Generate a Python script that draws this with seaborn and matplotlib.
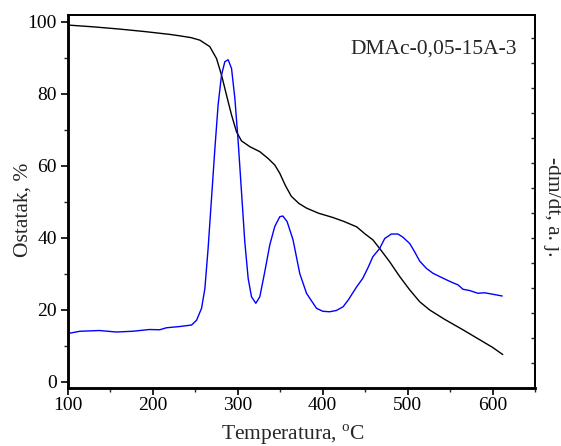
import numpy as np
import pandas as pd
import matplotlib
matplotlib.use("Agg")
import matplotlib.pyplot as plt
import seaborn as sns
from matplotlib.ticker import MultipleLocator

# TG curve: residual mass (%) vs temperature (°C)
tg_temp = [100, 130, 160, 190, 220, 231.8, 245, 255.3, 267, 274.9, 280.8, 286.7,
           292.6, 298.5, 304.3, 314.1, 325.9, 335.7, 343.5, 349.4, 356, 363, 372,
           381, 395, 412, 425, 440, 450, 459, 467, 478.8, 490.6, 502.4, 514.1,
           525.9, 543.5, 565, 585, 600, 612]
tg_mass = [99.1, 98.6, 98.0, 97.3, 96.5, 96.1, 95.6, 94.9, 93.1, 89.8, 85.2, 79.6,
           74.1, 69.4, 66.9, 65.3, 63.9, 62.0, 60.2, 57.9, 54.5, 51.5, 49.5,
           48.2, 46.8, 45.6, 44.5, 43.0, 41.0, 39.4, 37.0, 33.3, 29.2, 25.5, 22.2,
           19.9, 17.3, 14.4, 11.6, 9.5, 7.5]

# DTG curve: -dm/dt (arbitrary units) vs temperature (°C)
dtg_temp = [100, 114, 137, 157, 176, 196, 208, 216, 231.8, 245.5, 251.4, 257.3,
            261.2, 265, 269, 273, 276.8, 280.8, 284.7, 288.6, 292.6, 296.5, 300.4,
            304.3, 308.2, 312.2, 316.1, 321.2, 325.9, 331.8, 337.6, 343.5, 349.4,
            353, 358, 365, 373, 381, 392.6, 400, 408, 416, 424, 430, 440, 447, 453,
            459, 467, 473, 480.8, 488.6, 494.5, 502.4, 508.2, 514.1, 521.9, 529.8,
            537.6, 545.5, 555.3, 559.2, 565.1, 572.9, 582.7, 590.6, 600.4, 611.4]
dtg_val = [2.18, 2.27, 2.30, 2.24, 2.27, 2.34, 2.33, 2.41, 2.46, 2.52, 2.71, 3.19,
           3.98, 5.58, 7.58, 9.58, 11.33, 12.52, 13.05, 13.13, 12.78, 11.59, 9.86,
           7.86, 5.85, 4.38, 3.65, 3.39, 3.65, 4.66, 5.72, 6.46, 6.85,
           6.88, 6.66, 5.93, 4.57, 3.78, 3.19, 3.07, 3.05, 3.10, 3.25, 3.52, 4.05,
           4.38, 4.79, 5.25, 5.58, 5.98, 6.16, 6.16, 6.03, 5.78, 5.45, 5.08, 4.79,
           4.59, 4.46, 4.33, 4.18, 4.13, 3.95, 3.90, 3.79, 3.81, 3.75, 3.68]

sample_name = "DMAc-0,05-15A-3"

tg = pd.DataFrame({"T": tg_temp, "m": tg_mass})
dtg = pd.DataFrame({"T": dtg_temp, "d": dtg_val})

sns.set_style("ticks")
plt.rcParams["font.family"] = ["Liberation Serif", "DejaVu Serif"]
plt.rcParams["mathtext.fontset"] = "custom"
plt.rcParams["mathtext.rm"] = "Liberation Serif"

fig = plt.figure(figsize=(5.61, 4.46), dpi=100)
ax = fig.add_axes([0.1212, 0.130, 0.8325, 0.8364])

sns.lineplot(data=tg, x="T", y="m", ax=ax, color="black", linewidth=1.0)
ax.set_xlim(100, 650)
ax.set_ylim(-1.8, 101.9)
ax.xaxis.set_major_locator(MultipleLocator(100))
ax.xaxis.set_minor_locator(MultipleLocator(50))
ax.yaxis.set_major_locator(MultipleLocator(20))
ax.yaxis.set_minor_locator(MultipleLocator(10))
ax.tick_params(which="major", direction="out", length=5, width=1.2,
               labelsize=14, colors="black", top=False, right=False)
ax.tick_params(axis="x", which="major", pad=1.5)
ax.tick_params(axis="y", which="major", pad=3)
ax.tick_params(which="minor", direction="out", length=3, width=1.0,
               top=False, right=False)
ax.set_xlabel("Temperatura, $^{\\mathrm{o}}$C", fontsize=15.5)
ax.xaxis.set_label_coords(0.481, -0.093)
ax.set_ylabel("Ostatak, %", fontsize=15.5)
ax.yaxis.set_label_coords(-0.075, 0.477)

ax2 = ax.twinx()
sns.lineplot(data=dtg, x="T", y="d", ax=ax2, color="#0000ff", linewidth=1.0)
ax2.set_ylim(0, 14.92)
ax2.yaxis.set_major_locator(MultipleLocator(1))
ax2.tick_params(axis="y", which="major", direction="in", length=3, width=1.0,
                labelright=False, right=True)
ax2.set_ylabel("-dm/dt, a. j.", fontsize=15.5, rotation=-90)
ax2.yaxis.label.set_verticalalignment("top")
ax2.yaxis.set_label_coords(1.058, 0.485)
ax2.set_xlim(100, 650)

for a in (ax, ax2):
    for side in ("top", "right", "left", "bottom"):
        a.spines[side].set_visible(True)
        a.spines[side].set_color("black")
    a.spines["top"].set_linewidth(1.3)
    a.spines["right"].set_linewidth(1.3)
    a.spines["left"].set_linewidth(1.8)
    a.spines["bottom"].set_linewidth(1.8)

ax.text(0.961, 0.897, sample_name, transform=ax.transAxes, ha="right",
        va="baseline", fontsize=15.5)

fig.savefig("out.png", dpi=100)
